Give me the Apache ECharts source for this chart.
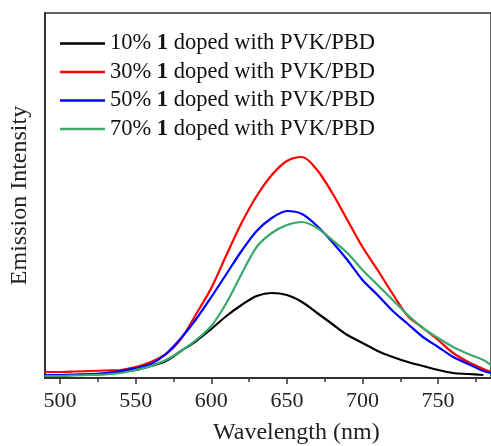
<!DOCTYPE html>
<html>
<head>
<meta charset="utf-8">
<script src="https://cdn.jsdelivr.net/npm/echarts@6/dist/echarts.min.js"></script>
<style>
  html, body { margin: 0; padding: 0; background: #fff; }
  #emissionChart { width: 491px; height: 446px; }
</style>
</head>
<body>
<div id="emissionChart"></div>
<script>
// wavelength (nm)
const wavelengths = [490, 500, 510, 520, 530, 540, 550, 560, 570, 580, 590, 600, 610, 620, 630,
  640, 650, 660, 670, 680, 690, 700, 710, 720, 730, 740, 750, 760, 770, 780, 785];

// emission intensity (a.u.)
const black10 = [3, 3, 3, 3.5, 4, 6, 8, 12, 17, 27, 37, 49, 62, 73, 82,
  85, 83, 76, 65, 54, 43, 35, 27, 21, 16, 12, 8, 5, 4, 3, null];
const red30 = [6, 6, 6.5, 7, 7.5, 8, 11, 16, 24, 39, 64, 90, 123, 155, 182,
  203, 217, 221, 208, 185, 158, 131, 108, 84, 62, 50, 38, 25, 16, 9, 6];
const blue50 = [3, 3, 3.5, 4, 5, 7, 10, 14, 24, 40, 59, 81, 104, 127, 147,
  160, 167, 164, 152, 136, 118, 98, 83, 67, 54, 41, 31, 21, 14, 7, 5];
const green70 = [2, 2, 2.5, 3, 3.5, 5, 8, 12, 18, 27, 38, 52, 75, 104, 131,
  145, 153, 156, 150, 138, 125, 108, 93, 78, 63, 50, 40, 31, 24, 18, 13];

const majorTicks = [500, 550, 600, 650, 700, 750];
const minorTicks = [525, 575, 625, 675, 725, 775];

const seriesNames = ["10%", "30%", "50%", "70%"];

const serif = "'Liberation Serif', 'DejaVu Serif', serif";

function pairs(vals) {
  return wavelengths.map((w, i) => [w, vals[i]]);
}

function makeLine(name, vals, color) {
  return {
    name: name,
    type: "line",
    data: pairs(vals),
    symbol: "none",
    smooth: 0.3,
    lineStyle: { color: color, width: 2.2 },
    itemStyle: { color: color },
  };
}

const myChart = echarts.init(document.getElementById("emissionChart"));

const option = {
  animation: false,
  grid: {
    left: 45,
    right: 0,
    top: 13,
    bottom: 68,
    show: true,
    borderColor: "#333",
    borderWidth: 1.5,
  },
  legend: {
    orient: "vertical",
    left: 55,
    top: 27,
    icon: "rect",
    itemWidth: 45,
    itemHeight: 2.5,
    itemGap: 5.5,
    data: seriesNames,
    formatter: (name) => name + " {b|1} doped with PVK/PBD",
    textStyle: {
      fontFamily: serif,
      fontSize: 22.5,
      lineHeight: 22,
      color: "#111",
      rich: {
        b: { fontFamily: serif, fontSize: 22.5, lineHeight: 22, fontWeight: "bold", color: "#111" },
      },
    },
  },
  xAxis: [
    {
      type: "value",
      min: 490,
      max: 785,
      splitLine: { show: false },
      axisLine: { show: true, onZero: false, lineStyle: { color: "#333", width: 2 } },
      axisTick: {
        show: true,
        customValues: majorTicks,
        length: 6,
        lineStyle: { color: "#333", width: 1.5 },
      },
      axisLabel: {
        customValues: majorTicks,
        margin: 12,
        fontFamily: serif,
        fontSize: 22,
        color: "#222",
      },
    },
    {
      type: "value",
      min: 490,
      max: 785,
      position: "bottom",
      splitLine: { show: false },
      axisLine: { show: false },
      axisTick: {
        show: true,
        customValues: minorTicks,
        length: 4,
        lineStyle: { color: "#333", width: 1.5 },
      },
      axisLabel: { show: false },
    },
  ],
  yAxis: {
    type: "value",
    min: 0,
    max: 365,
    name: "Emission Intensity",
    nameLocation: "middle",
    nameGap: 13,
    nameTextStyle: { fontFamily: serif, fontSize: 24, color: "#222" },
    splitLine: { show: false },
    axisTick: { show: false },
    axisLabel: { show: false },
    axisLine: { show: true, lineStyle: { color: "#333", width: 2 } },
  },
  graphic: [
    {
      type: "text",
      left: 213,
      top: 421,
      style: {
        text: "Wavelength (nm)",
        font: "24px " + serif,
        fill: "#222",
      },
    },
  ],
  series: [
    makeLine(seriesNames[0], black10, "#000000"),
    makeLine(seriesNames[1], red30, "#ff0000"),
    makeLine(seriesNames[2], blue50, "#0000ff"),
    makeLine(seriesNames[3], green70, "#3aaa6c"),
  ],
};

myChart.setOption(option);
</script>
</body>
</html>
